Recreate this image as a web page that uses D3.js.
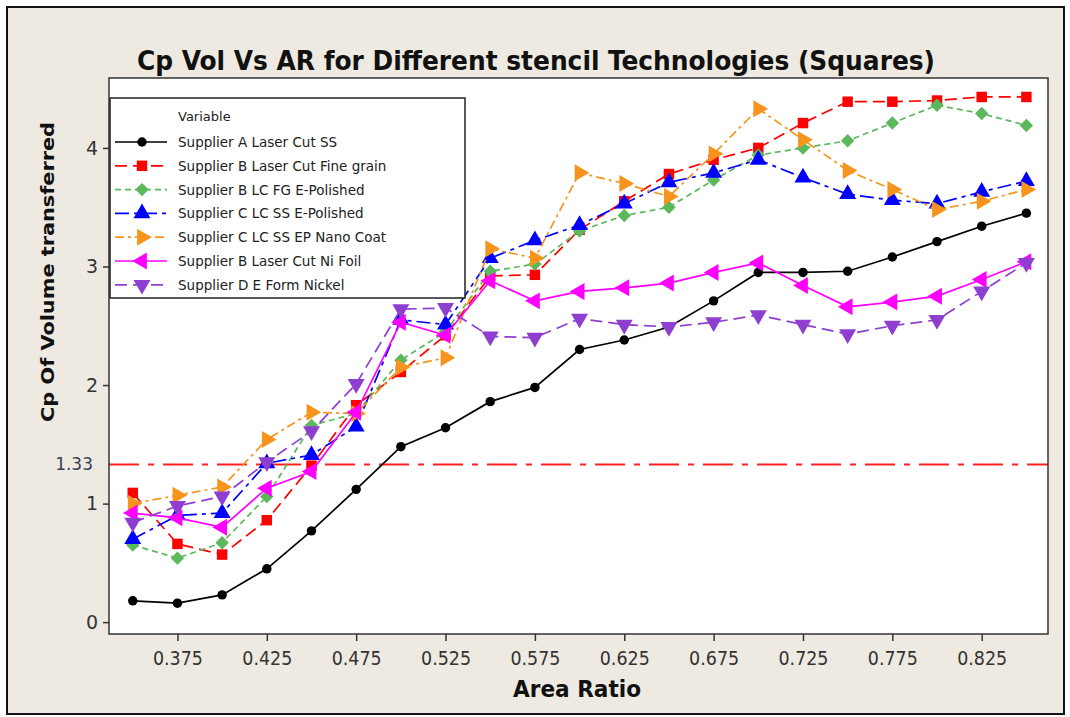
<!DOCTYPE html>
<html>
<head>
<meta charset="utf-8">
<script src="https://cdn.jsdelivr.net/npm/d3@7"></script>
<style>
  body { margin: 0; background: #fff; }
  svg { display: block; }
</style>
</head>
<body>
<div id="chart"></div>
<script>
// Data
var areaRatio = [0.35, 0.375, 0.40, 0.425, 0.45, 0.475, 0.50, 0.525, 0.55, 0.575, 0.60,
                 0.625, 0.65, 0.675, 0.70, 0.725, 0.75, 0.775, 0.80, 0.825, 0.85];

var supplierA_LaserCutSS   = [0.18, 0.16, 0.23, 0.45, 0.77, 1.12, 1.48, 1.64, 1.86, 1.98, 2.30,
                              2.38, 2.49, 2.71, 2.95, 2.95, 2.96, 3.08, 3.21, 3.34, 3.45];
var supplierB_FineGrain    = [1.09, 0.66, 0.57, 0.86, 1.32, 1.83, 2.11, 2.42, 2.92, 2.93, 3.31,
                              3.55, 3.78, 3.90, 4.00, 4.21, 4.39, 4.39, 4.40, 4.43, 4.43];
var supplierB_FGEPolished  = [0.65, 0.54, 0.67, 1.06, 1.66, 1.76, 2.21, 2.45, 2.96, 3.02, 3.30,
                              3.43, 3.50, 3.73, 3.94, 4.00, 4.06, 4.21, 4.36, 4.29, 4.19];
var supplierC_SSEPolished  = [0.70, 0.90, 0.92, 1.34, 1.41, 1.65, 2.55, 2.51, 3.07, 3.22, 3.35,
                              3.53, 3.71, 3.79, 3.90, 3.75, 3.61, 3.56, 3.53, 3.63, 3.72];
var supplierC_NanoCoat     = [1.00, 1.07, 1.14, 1.54, 1.77, 1.76, 2.15, 2.23, 3.15, 3.07, 3.79,
                              3.70, 3.59, 3.95, 4.33, 4.07, 3.81, 3.65, 3.48, 3.55, 3.65];
var supplierB_NiFoil       = [0.92, 0.88, 0.80, 1.13, 1.27, 1.77, 2.53, 2.42, 2.88, 2.71, 2.79,
                              2.82, 2.86, 2.95, 3.03, 2.84, 2.66, 2.70, 2.75, 2.89, 3.04];
var supplierD_EFormNickel  = [0.84, 0.98, 1.06, 1.35, 1.61, 2.01, 2.64, 2.65, 2.41, 2.40, 2.56,
                              2.51, 2.49, 2.53, 2.59, 2.51, 2.43, 2.50, 2.55, 2.79, 3.03];

var seriesNames = ["Supplier A Laser Cut SS", "Supplier B Laser Cut Fine grain",
                   "Supplier B LC FG E-Polished", "Supplier C LC SS E-Polished",
                   "Supplier C LC SS EP Nano Coat", "Supplier B Laser Cut Ni Foil",
                   "Supplier D E Form Nickel"];
var seriesValues = [supplierA_LaserCutSS, supplierB_FineGrain, supplierB_FGEPolished,
                    supplierC_SSEPolished, supplierC_NanoCoat, supplierB_NiFoil, supplierD_EFormNickel];

var xTicks = [0.375, 0.425, 0.475, 0.525, 0.575, 0.625, 0.675, 0.725, 0.775, 0.825];
var yTicks = [0, 1, 2, 3, 4];
var refLevel = 1.33;

// styling per series
var colors  = ["#000000", "#ff0000", "#5cb85c", "#0000ff", "#f7941d", "#ff00ff", "#8e3fd0"];
var dashes  = [null, "12,6", "6,4", "14,5,4,5", "9,4,3,4", null, "12,6"];
var symbols = [d3.symbolCircle, d3.symbolSquare, d3.symbolSquare, d3.symbolTriangle,
               d3.symbolTriangle, d3.symbolTriangle, d3.symbolTriangle];
var rotations = [0, 0, 45, 0, 90, -90, 180];
var symSizes  = [70, 110, 90, 125, 125, 125, 125];

var W = 1070, H = 717;
var plot = {left: 109, right: 1048, top: 78, bottom: 634};
var narrow = "'Liberation Sans Narrow', 'DejaVu Sans Condensed', 'Roboto Condensed', sans-serif";

var svg = d3.select("#chart").append("svg")
  .attr("width", W).attr("height", H);

// outer panel
svg.append("rect")
  .attr("x", 7).attr("y", 7).attr("width", 1057).attr("height", 707)
  .attr("fill", "#eeeae2").attr("stroke", "#111").attr("stroke-width", 2);

// plot area
svg.append("rect")
  .attr("x", plot.left).attr("y", plot.top)
  .attr("width", plot.right - plot.left).attr("height", plot.bottom - plot.top)
  .attr("fill", "#fff");

var x = d3.scaleLinear().domain([0.3367, 0.8621]).range([plot.left, plot.right]);
var y = d3.scaleLinear().domain([-0.1, 4.59]).range([plot.bottom, plot.top]);

// title
svg.append("text")
  .attr("x", 536).attr("y", 70)
  .attr("text-anchor", "middle")
  .style("font-family", narrow)
  .style("font-weight", "bold").style("font-size", "26px").style("fill", "#111")
  .attr("textLength", 798).attr("lengthAdjust", "spacingAndGlyphs")
  .text("Cp Vol Vs AR for Different stencil Technologies (Squares)");

// axes
var xAxis = svg.append("g")
  .attr("transform", "translate(0," + plot.bottom + ")")
  .call(d3.axisBottom(x).tickValues(xTicks).tickSize(7).tickPadding(10).tickFormat(d3.format(".3f")));
xAxis.select(".domain").remove();
xAxis.selectAll("line").attr("stroke", "#333").attr("stroke-width", 1.5);
xAxis.selectAll("text")
  .style("font-family", narrow)
  .style("font-size", "20px").style("fill", "#333")
  .attr("textLength", 50).attr("lengthAdjust", "spacingAndGlyphs");

var yAxis = svg.append("g")
  .attr("transform", "translate(" + plot.left + ",0)")
  .call(d3.axisLeft(y).tickValues(yTicks).tickSize(6).tickPadding(5).tickFormat(d3.format("d")));
yAxis.select(".domain").remove();
yAxis.selectAll("line").attr("stroke", "#333").attr("stroke-width", 1.5);
yAxis.selectAll("text")
  .style("font-family", "'DejaVu Sans', sans-serif")
  .style("font-size", "19px").style("fill", "#333");

// 1.33 label
svg.append("text")
  .attr("x", 93).attr("y", y(refLevel)).attr("dy", "0.35em")
  .attr("text-anchor", "end")
  .style("font-family", "'DejaVu Sans', sans-serif")
  .style("font-size", "17px").style("fill", "#3a3f55")
  .text("1.33");

// axis titles
svg.append("text")
  .attr("x", 577).attr("y", 697)
  .attr("text-anchor", "middle")
  .style("font-family", narrow)
  .style("font-weight", "bold").style("font-size", "23px").style("fill", "#111")
  .attr("textLength", 128).attr("lengthAdjust", "spacingAndGlyphs")
  .text("Area Ratio");

svg.append("text")
  .attr("transform", "translate(54,272) rotate(-90)")
  .attr("text-anchor", "middle")
  .style("font-family", "'DejaVu Sans', sans-serif")
  .style("font-weight", "bold").style("font-size", "18px").style("fill", "#111")
  .attr("textLength", 300).attr("lengthAdjust", "spacingAndGlyphs")
  .text("Cp Of Volume transferred");

// reference line at 1.33
svg.append("line")
  .attr("x1", plot.left).attr("x2", plot.right)
  .attr("y1", y(refLevel)).attr("y2", y(refLevel))
  .attr("stroke", "#ff2020").attr("stroke-width", 2)
  .attr("stroke-dasharray", "30,9,6,9");

// series lines and markers
var line = d3.line()
  .x(function(d, i) { return x(areaRatio[i]); })
  .y(function(d) { return y(d); });

seriesValues.forEach(function(vals, s) {
  svg.append("path")
    .datum(vals)
    .attr("d", line)
    .attr("fill", "none")
    .attr("stroke", colors[s])
    .attr("stroke-width", 1.7)
    .attr("stroke-dasharray", dashes[s]);

  svg.selectAll(".m" + s)
    .data(vals)
    .enter()
    .append("path")
    .attr("class", "m" + s)
    .attr("d", d3.symbol().type(symbols[s]).size(symSizes[s]))
    .attr("transform", function(d, i) {
      return "translate(" + x(areaRatio[i]) + "," + y(d) + ") rotate(" + rotations[s] + ")";
    })
    .attr("fill", colors[s]);
});

// plot frame
svg.append("rect")
  .attr("x", plot.left).attr("y", plot.top)
  .attr("width", plot.right - plot.left).attr("height", plot.bottom - plot.top)
  .attr("fill", "none").attr("stroke", "#333").attr("stroke-width", 1.5);

// legend
var legend = svg.append("g");
legend.append("rect")
  .attr("x", 110).attr("y", 98).attr("width", 355).attr("height", 200)
  .attr("fill", "#fff").attr("stroke", "#222").attr("stroke-width", 1.5);
legend.append("text")
  .attr("x", 178).attr("y", 121)
  .style("font-family", "'DejaVu Sans', sans-serif")
  .style("font-size", "13px").style("fill", "#222")
  .text("Variable");

seriesNames.forEach(function(name, s) {
  var cy = 142 + s * 23.8;
  legend.append("line")
    .attr("x1", 115).attr("x2", 167).attr("y1", cy).attr("y2", cy)
    .attr("stroke", colors[s]).attr("stroke-width", 1.7)
    .attr("stroke-dasharray", dashes[s]);
  legend.append("path")
    .attr("d", d3.symbol().type(symbols[s]).size(symSizes[s]))
    .attr("transform", "translate(142," + cy + ") rotate(" + rotations[s] + ")")
    .attr("fill", colors[s]);
  legend.append("text")
    .attr("x", 178).attr("y", cy + 5)
    .style("font-family", "'DejaVu Sans', sans-serif")
    .style("font-size", "13.5px").style("fill", "#222")
    .text(name);
});
</script>
</body>
</html>
